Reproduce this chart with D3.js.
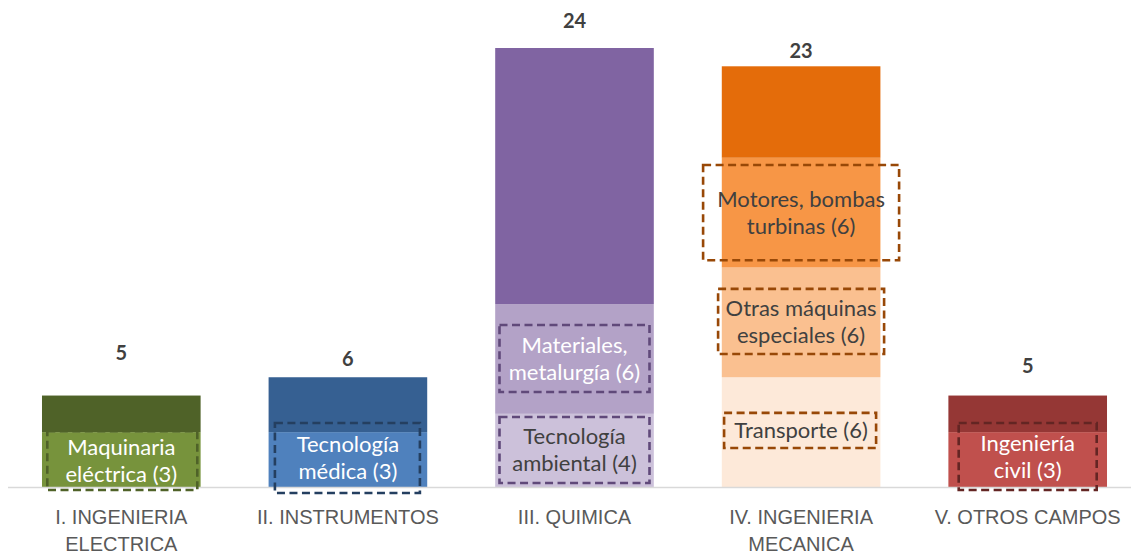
<!DOCTYPE html>
<html>
<head>
<meta charset="utf-8">
<title>Patentes por campo tecnológico</title>
<style type="text/css">
	body { margin: 0; background: #fff; }
	svg { display: block; font-family: Lato, "Open Sans", sans-serif; }
	.axis path, .axis line { display: none; }
	.axis text { fill: #595959; font-size: 20px; }
	.total { fill: #404040; font-size: 20px; font-weight: bold; }
	.seg-label { font-size: 22px; }
</style>
</head>
<body>
<svg id="chart"></svg>
<script src="https://d3js.org/d3.v7.min.js"></script>
<script type="text/javascript">
// categories and totals
var categories = ["I. INGENIERIA|ELECTRICA", "II. INSTRUMENTOS", "III. QUIMICA", "IV. INGENIERIA|MECANICA", "V. OTROS CAMPOS"];
var totals = [5, 6, 24, 23, 5];

// stacked segments, bottom to top within each category
var segCategory = [0, 0, 1, 1, 2, 2, 2, 3, 3, 3, 3, 4, 4];
var segValues   = [3, 2, 3, 3, 4, 6, 14, 6, 6, 6, 5, 3, 2];
var segNames    = ["Maquinaria|eléctrica (3)", "", "Tecnología|médica (3)", "",
	"Tecnología|ambiental (4)", "Materiales,|metalurgía (6)", "",
	"Transporte (6)", "Otras máquinas|especiales (6)", "Motores, bombas|turbinas (6)", "",
	"Ingeniería|civil (3)", ""];

// styling
var segColors = ["#77933c", "#4f6228", "#4f81bd", "#366092",
	"#ccc1da", "#b3a2c7", "#8064a2",
	"#fde9d9", "#fac090", "#f79646", "#e46c0a",
	"#c0504d", "#953735"];
var textColors = ["#fff", "", "#fff", "", "#404040", "#fff", "", "#404040", "#404040", "#404040", "", "#fff", ""];
var boxColors = ["#4f6228", "", "#243f60", "", "#60497a", "#60497a", "", "#984807", "#984807", "#984807", "", "#632523", ""];
// dashed box extents: [low value, high value, left px, right px] relative to bar centre
var boxLayout = [[-0.16, 3.05, -74, 76], null, [-0.33, 3.5, -73, 72], null,
	[0.22, 3.83, -75, 75], [5.19, 8.86, -75, 75], null,
	[2.13, 4.05, -77, 75], [7.27, 10.83, -83, 83], [12.4, 17.6, -98, 98], null,
	[-0.16, 3.5, -69, 69], null];
var totalLift = [36, 11, 20, 8, 23];

var width = 1131, height = 554;
var svg = d3.select("#chart").attr("width", width).attr("height", height);

var x = d3.scaleBand()
	.domain(categories)
	.range([8, 1141])
	.paddingInner(0.3)
	.paddingOuter(0.15);

var y = d3.scaleLinear()
	.domain([0, 24])
	.range([487, 48]);

// cumulative stacking
var base = categories.map(function() { return 0; });
var segs = segValues.map(function(v, i) {
	var c = segCategory[i];
	var s = { i: i, cat: categories[c], y0: base[c], y1: base[c] + v };
	base[c] += v;
	return s;
});

svg.append("g").selectAll("rect")
	.data(segs)
	.enter().append("rect")
	.attr("x", d => x(d.cat))
	.attr("width", x.bandwidth())
	.attr("y", d => y(d.y1))
	.attr("height", d => y(d.y0) - y(d.y1))
	.attr("fill", d => segColors[d.i]);

// baseline
svg.append("line")
	.attr("x1", 8).attr("x2", width)
	.attr("y1", y(0) + 0.5).attr("y2", y(0) + 0.5)
	.attr("stroke", "#d9d9d9")
	.attr("stroke-width", 1.5);

// labelled segments with dashed boxes
var labelled = segs.filter(d => segNames[d.i] !== "");
var lab = svg.append("g").selectAll("g")
	.data(labelled)
	.enter().append("g")
	.attr("transform", d => `translate(${x(d.cat) + x.bandwidth() / 2},0)`);

lab.append("rect")
	.attr("x", d => boxLayout[d.i][2])
	.attr("width", d => boxLayout[d.i][3] - boxLayout[d.i][2])
	.attr("y", d => y(boxLayout[d.i][1]))
	.attr("height", d => y(boxLayout[d.i][0]) - y(boxLayout[d.i][1]))
	.attr("fill", "none")
	.attr("stroke", d => boxColors[d.i])
	.attr("stroke-width", 2.6)
	.attr("stroke-dasharray", "8,4.5");

lab.each(function(d) {
	var lines = segNames[d.i].split("|");
	var mid = (y(boxLayout[d.i][0]) + y(boxLayout[d.i][1])) / 2;
	var t = d3.select(this).append("text")
		.attr("class", "seg-label")
		.attr("text-anchor", "middle")
		.attr("fill", textColors[d.i]);
	lines.forEach(function(l, k) {
		t.append("tspan")
			.attr("x", 0)
			.attr("y", mid + (k - (lines.length - 1) / 2) * 27)
			.attr("dy", "0.35em")
			.text(l);
	});
});

// totals
svg.append("g").selectAll("text")
	.data(totals)
	.enter().append("text")
	.attr("class", "total")
	.attr("text-anchor", "middle")
	.attr("x", (d, i) => x(categories[i]) + x.bandwidth() / 2)
	.attr("y", (d, i) => y(d) - totalLift[i])
	.text(d => d);

// category axis
var axis = svg.append("g")
	.attr("class", "axis")
	.attr("transform", `translate(0,${y(0)})`)
	.call(d3.axisBottom(x).tickSize(0).tickFormat(""));

axis.selectAll(".tick").append("text")
	.attr("text-anchor", "middle")
	.each(function(d) {
		var t = d3.select(this);
		d.split("|").forEach(function(l, k) {
			t.append("tspan").attr("x", 0).attr("y", 30 + k * 27).attr("dy", "0.35em").text(l);
		});
	});
</script>
</body>
</html>
